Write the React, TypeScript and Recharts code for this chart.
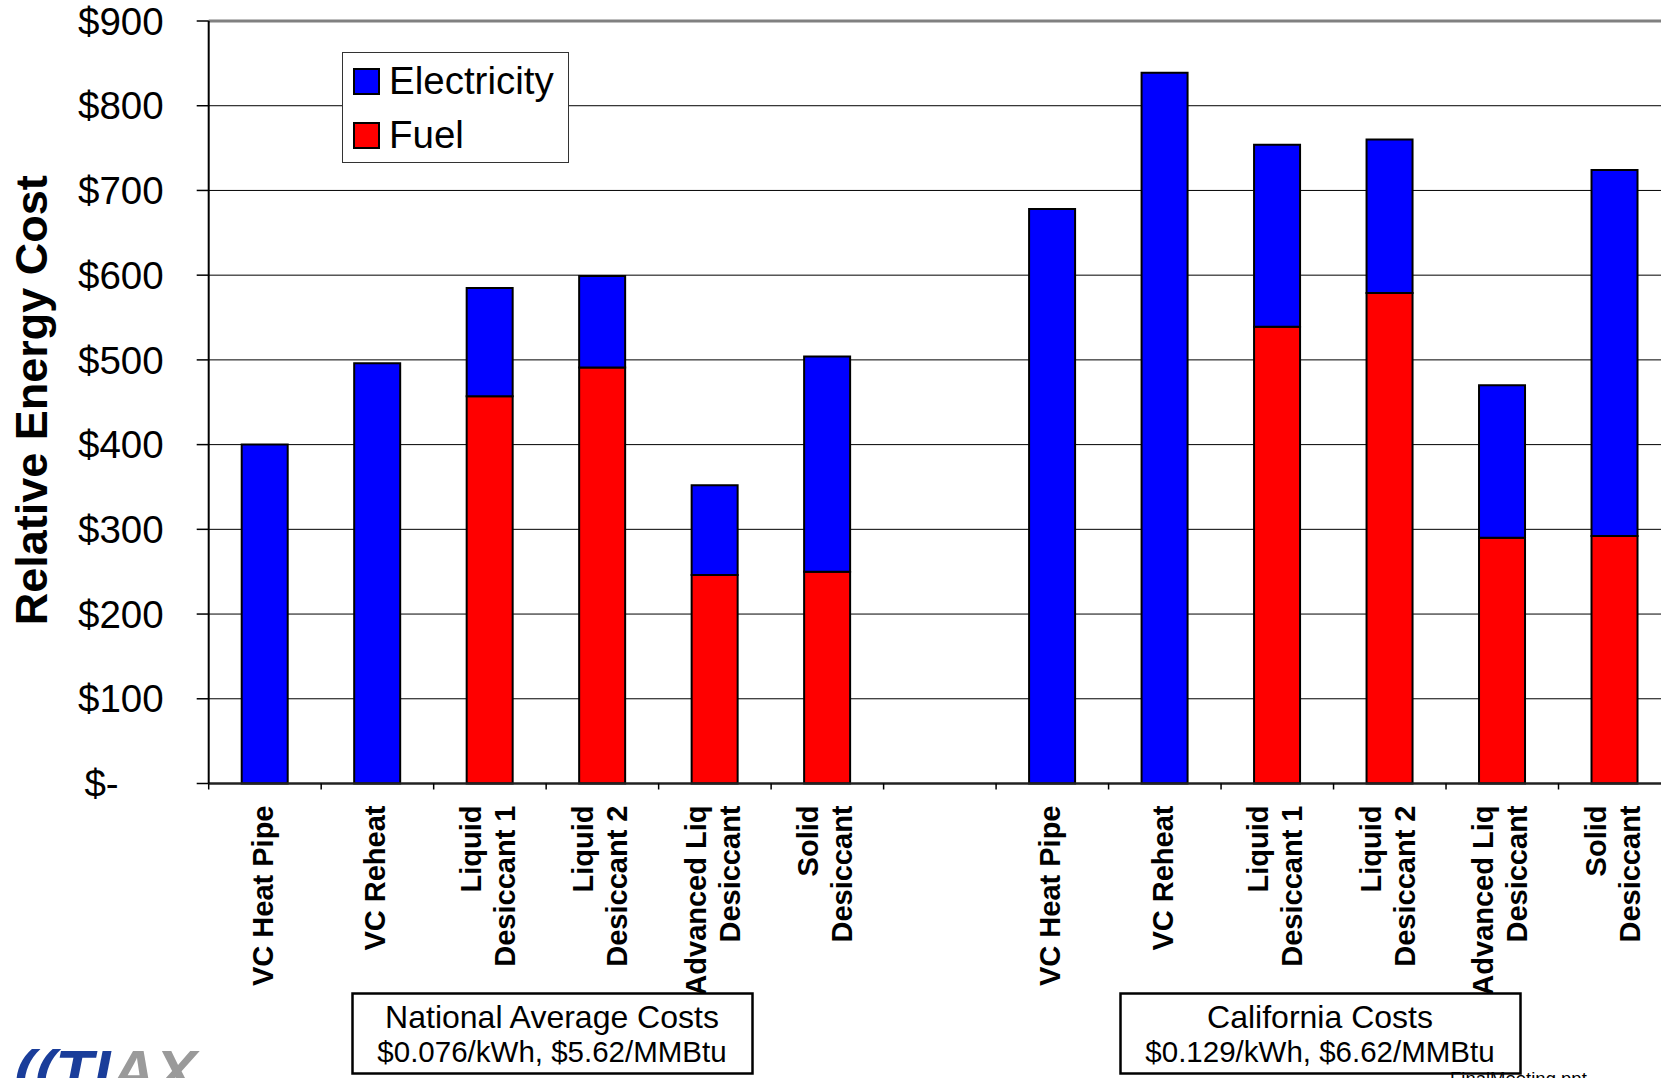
import React from 'react';
import { BarChart, Bar, XAxis, YAxis, CartesianGrid, Legend, ReferenceLine, Label } from 'recharts';

const FONT = '"Liberation Sans", Arial, Helvetica, sans-serif';

// 6 national-average options, an empty spacer slot, then the same 6 at California prices
const categories = [
  'VC Heat Pipe', 'VC Reheat', 'Liquid\nDesiccant 1', 'Liquid\nDesiccant 2', 'Advanced Liq\nDesiccant', 'Solid\nDesiccant',
  '',
  'VC Heat Pipe', 'VC Reheat', 'Liquid\nDesiccant 1', 'Liquid\nDesiccant 2', 'Advanced Liq\nDesiccant', 'Solid\nDesiccant',
];
const fuel = [0, 0, 457, 491, 246, 250, null, 0, 0, 539, 579, 290, 292];
const electricity = [400, 496, 128, 108, 106, 254, null, 678, 839, 215, 181, 180, 432];
const yTicks = [0, 100, 200, 300, 400, 500, 600, 700, 800, 900];

const series = [
  { key: 'electricity', label: 'Electricity', color: '#0000FF' },
  { key: 'fuel', label: 'Fuel', color: '#FF0000' },
];

const notes = [
  { title: 'National Average Costs', rates: '$0.076/kWh, $5.62/MMBtu', x: 352, w: 400 },
  { title: 'California Costs', rates: '$0.129/kWh, $6.62/MMBtu', x: 1120, w: 400 },
];

const data = categories.map((name, i) => ({
  name,
  fuel: fuel[i],
  electricity: electricity[i],
}));

const TICK_SIZE = 6;
const TICK_MARGIN = 16;

function CategoryTick(props: any) {
  const { x, y, payload, index, width } = props;
  const band = (width || 1462.3) / categories.length;
  const axisY = y - TICK_SIZE - TICK_MARGIN;
  const lines = String(payload.value || '').split('\n');
  const n = lines.length;
  return (
    <g>
      <line x1={x - band / 2} x2={x - band / 2} y1={axisY} y2={axisY + TICK_SIZE} stroke="#000" strokeWidth={1.5} />
      {index === categories.length - 1 && (
        <line x1={x + band / 2} x2={x + band / 2} y1={axisY} y2={axisY + TICK_SIZE} stroke="#000" strokeWidth={1.5} />
      )}
      {lines.map((ln, i) => (
        <text
          key={i}
          transform={`translate(${x + 8 + (i - (n - 1) / 2) * 34}, ${y}) rotate(-90)`}
          textAnchor="end"
          fontFamily={FONT}
          fontWeight="bold"
          fontSize={29}
          fill="#000"
        >
          {ln}
        </text>
      ))}
    </g>
  );
}

function MoneyTick(props: any) {
  const { x, y, payload } = props;
  const v = payload.value;
  return (
    <text
      x={v === 0 ? x - 45 : x}
      y={y}
      dy="0.355em"
      textAnchor="end"
      fontFamily={FONT}
      fontSize={38.5}
      fill="#000"
    >
      {v === 0 ? '$-' : `$${v}`}
    </text>
  );
}

function YTitle(props: any) {
  const vb = props.viewBox || { x: 0, y: 21, width: 209, height: 762 };
  const cx = vb.x + 47;
  const cy = vb.y + vb.height / 2;
  return (
    <text
      transform={`translate(${cx}, ${cy - 2}) rotate(-90)`}
      textAnchor="middle"
      fontFamily={FONT}
      fontWeight="bold"
      fontSize={45}
      fill="#000"
    >
      Relative Energy Cost
    </text>
  );
}

function LegendBox() {
  return (
    <svg width={227} height={111} style={{ display: 'block' }}>
      <rect x={0.5} y={0.5} width={226} height={110} fill="#fff" stroke="#333" strokeWidth={1} />
      {series.map((s, i) => (
        <g key={s.key}>
          <rect x={12} y={17 + i * 54} width={25} height={25} fill={s.color} stroke="#000" strokeWidth={2} />
          <text x={47} y={42 + i * 54} fontFamily={FONT} fontSize={38.5} fill="#000">
            {s.label}
          </text>
        </g>
      ))}
    </svg>
  );
}

export default function App() {
  return (
    <div
      style={{
        position: 'fixed',
        top: 0,
        left: 0,
        width: 1661,
        height: 1078,
        overflow: 'hidden',
        background: '#fff',
        fontFamily: FONT,
      }}
    >
      <BarChart
        width={1700}
        height={1078}
        data={data}
        margin={{ top: 21, right: 29, bottom: 0, left: 0 }}
        barSize={46}
      >
        <CartesianGrid vertical={false} stroke="#000" strokeWidth={1} />
        <XAxis
          dataKey="name"
          interval={0}
          height={294.5}
          tickLine={false}
          tickSize={TICK_SIZE}
          tickMargin={TICK_MARGIN}
          axisLine={{ stroke: '#222', strokeWidth: 2.5 }}
          tick={<CategoryTick />}
        />
        <YAxis
          domain={[0, 900]}
          ticks={yTicks}
          width={208.7}
          tickSize={12}
          tickMargin={33}
          tickLine={{ stroke: '#000', strokeWidth: 1.5 }}
          axisLine={{ stroke: '#000', strokeWidth: 2 }}
          tick={<MoneyTick />}
        >
          <Label content={YTitle} />
        </YAxis>
        <ReferenceLine y={900} stroke="#808080" strokeWidth={3} />
        <Legend
          layout="horizontal"
          verticalAlign="middle"
          align="center"
          content={LegendBox}
          wrapperStyle={{ left: 342, top: 52, width: 227, height: 111 }}
        />
        <Bar dataKey="fuel" stackId="cost" fill="#FF0000" stroke="#000" strokeWidth={2} isAnimationActive={false} />
        <Bar dataKey="electricity" stackId="cost" fill="#0000FF" stroke="#000" strokeWidth={2} isAnimationActive={false} />
      </BarChart>

      <svg
        width={1661}
        height={1078}
        style={{ position: 'absolute', top: 0, left: 0, pointerEvents: 'none' }}
      >
        {notes.map((n) => (
          <g key={n.title}>
            <rect x={n.x + 0.5} y={993.5} width={n.w} height={80} fill="#fff" stroke="#000" strokeWidth={2.5} />
            <text x={n.x + n.w / 2} y={1027.5} textAnchor="middle" fontFamily={FONT} fontSize={32} fill="#000">
              {n.title}
            </text>
            <text x={n.x + n.w / 2} y={1062} textAnchor="middle" fontFamily={FONT} fontSize={29.5} fill="#000">
              {n.rates}
            </text>
          </g>
        ))}
        <text x={1450} y={1085} fontFamily={FONT} fontSize={18.5} fill="#000">
          FinalMeeting.ppt
        </text>
        <text x={14} y={1093} fontFamily={FONT} fontSize={62} fontStyle="italic" fontWeight="bold">
          <tspan fill="#1a3d9a">((TI</tspan>
          <tspan fill="#9a9a9a">AX</tspan>
        </text>
      </svg>
    </div>
  );
}
